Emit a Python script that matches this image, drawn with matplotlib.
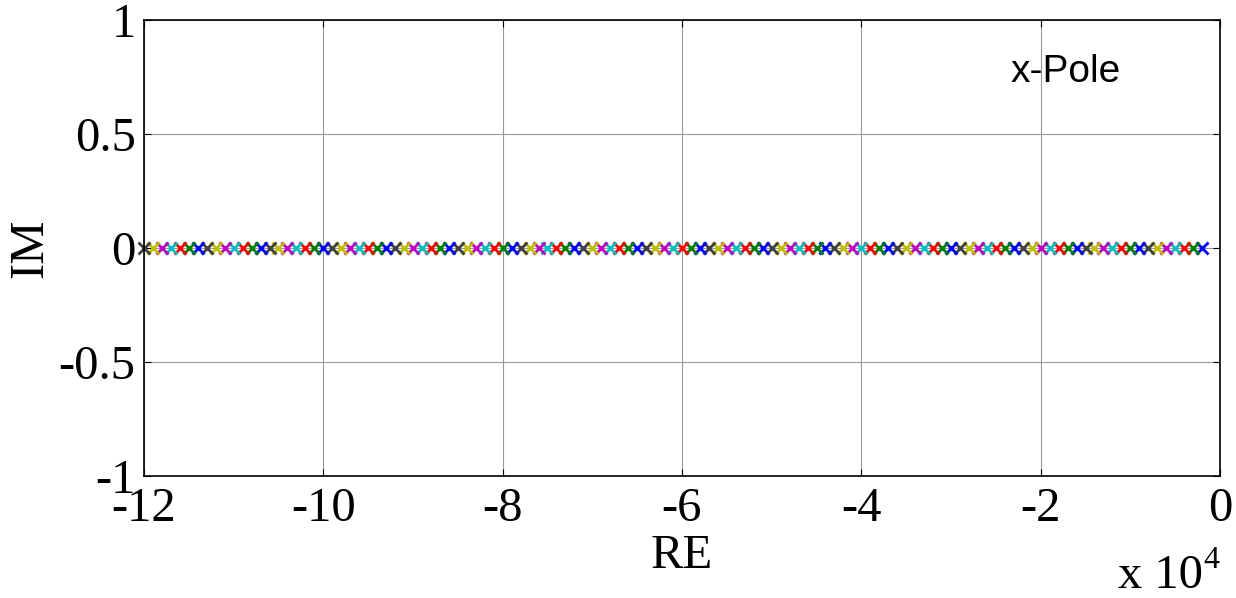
import numpy as np
import matplotlib.pyplot as plt

# pole real parts (in thousands), imaginary parts all zero
pole_re_k = [-2, -3, -4, -5, -6, -7, -8, -9, -10, -11, -12, -13, -14, -15, -16,
             -17, -18, -19, -20, -21, -22, -23, -24, -25, -26, -27, -28, -29, -30,
             -31, -32, -33, -34, -35, -36, -37, -38, -39, -40, -41, -42, -43, -44,
             -45, -46, -47, -48, -49, -50, -51, -52, -53, -54, -55, -56, -57, -58,
             -59, -60, -61, -62, -63, -64, -65, -66, -67, -68, -69, -70, -71, -72,
             -73, -74, -75, -76, -77, -78, -79, -80, -81, -82, -83, -84, -85, -86,
             -87, -88, -89, -90, -91, -92, -93, -94, -95, -96, -97, -98, -99, -100,
             -101, -102, -103, -104, -105, -106, -107, -108, -109, -110, -111, -112,
             -113, -114, -115, -116, -117, -118, -119, -120]
pole_im = [0.0] * len(pole_re_k)

xticks = [-120000, -100000, -80000, -60000, -40000, -20000, 0]
xtick_labels = ['-12', '-10', '-8', '-6', '-4', '-2', '0']
yticks = [-1, -0.5, 0, 0.5, 1]
ytick_labels = ['-1', '-0.5', '0', '0.5', '1']

# old matlab color order
colors = [(0, 0, 1), (0, 0.5, 0), (1, 0, 0), (0, 0.75, 0.75),
          (0.75, 0, 0.75), (0.75, 0.75, 0), (0.25, 0.25, 0.25)]

serif = 'Liberation Serif'

fig = plt.figure(figsize=(12.36, 5.98), dpi=100)
ax = fig.add_axes([144 / 1236, 1 - 476 / 598, 1076 / 1236, 456 / 598])

re = np.array(pole_re_k) * 1000.0
for i in range(len(re)):
    ax.plot(re[i], pole_im[i], 'x', color=colors[i % 7],
            markersize=8, markeredgewidth=2.0, clip_on=False)

ax.set_xlim(-120000, 0)
ax.set_ylim(-1, 1)
ax.set_xticks(xticks)
ax.set_xticklabels(xtick_labels)
ax.set_yticks(yticks)
ax.set_yticklabels(ytick_labels)
ax.grid(True, color='0.6', linewidth=0.8)
ax.set_axisbelow(True)
ax.tick_params(direction='in', top=True, right=True, length=5, width=0.8,
               labelsize=35, pad=6)
for lab in ax.get_xticklabels() + ax.get_yticklabels():
    lab.set_family(serif)
ax.tick_params(axis='x', pad=8)
for s in ax.spines.values():
    s.set_linewidth(1.2)

# axis labels placed like the matlab export
fig.text(682 / 1236, 1 - 568 / 598, 'RE', fontsize=35, family=serif,
         va='baseline', ha='center')
fig.text(30 / 1236, 1 - 248 / 598, 'IM', fontsize=35, family=serif,
         rotation=90, va='center', ha='center')

ax.text(-23400, 0.729, 'x-Pole', fontsize=28, family='Liberation Sans',
        va='baseline', ha='left')

fig.text(1118 / 1236, 1 - 588 / 598, 'x 10', fontsize=35, family=serif,
         va='baseline', ha='left')
fig.text(1203 / 1236, 1 - 568 / 598, '4', fontsize=23, family=serif,
         va='baseline', ha='left')

fig.savefig('out.png', dpi=100)
